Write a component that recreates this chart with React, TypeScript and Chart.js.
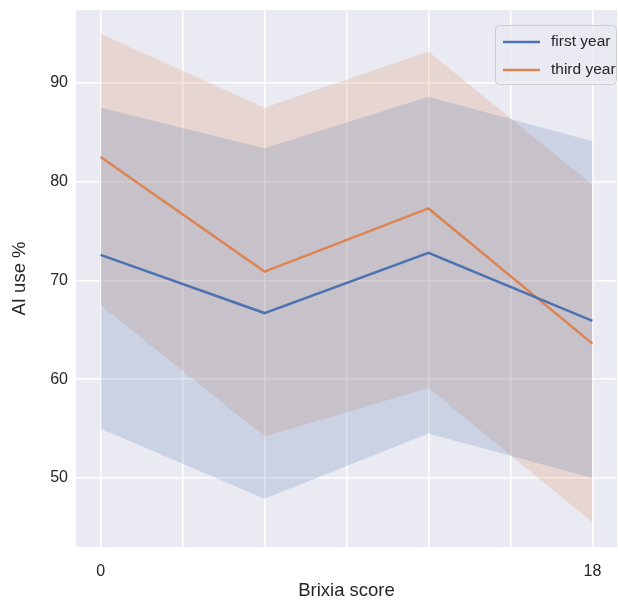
import React, { useEffect, useRef } from "react";
import { Chart, registerables } from "chart.js";

Chart.register(...registerables);

const xValues = [0, 6, 12, 18];
const firstYearMean = [72.6, 66.7, 72.8, 65.9];
const firstYearLow = [55.0, 47.9, 54.5, 50.0];
const firstYearHigh = [87.5, 83.4, 88.6, 84.1];
const thirdYearMean = [82.5, 70.9, 77.3, 63.6];
const thirdYearLow = [67.5, 54.2, 59.1, 45.5];
const thirdYearHigh = [95.0, 87.5, 93.2, 79.7];
const xTickValues = [0, 3, 6, 9, 12, 15, 18];
const xTickLabels = ["0", "", "", "", "", "", "18"];
const yTickValues = [50, 60, 70, 80, 90];
const seriesNames = ["first year", "third year"];

const BLUE = "#4C72B0";
const ORANGE = "#DD8452";
const FONT = "'Liberation Sans', Arial, sans-serif";

const pts = (ys: number[]) => xValues.map((x, i) => ({ x, y: ys[i] }));

export default function App() {
  const ref = useRef<HTMLCanvasElement | null>(null);
  useEffect(() => {
    document.body.style.margin = "0";
    const bgPlugin = {
      id: "bg",
      beforeDraw(chart: any) {
        const { ctx, chartArea: a } = chart;
        ctx.save();
        ctx.fillStyle = "#EAEAF2";
        ctx.fillRect(a.left, a.top, a.right - a.left, a.bottom - a.top);
        ctx.restore();
      },
    };
    const legendPlugin = {
      id: "customLegend",
      afterDraw(chart: any) {
        const { ctx, chartArea: a } = chart;
        const w = 122, h = 59;
        const x = a.right - w, y = a.top + 15;
        ctx.save();
        ctx.beginPath();
        (ctx as any).roundRect(x + 0.5, y + 0.5, w - 1, h, 4);
        ctx.fillStyle = "rgba(234,234,242,0.8)";
        ctx.fill();
        ctx.strokeStyle = "#CCCCCC";
        ctx.lineWidth = 1;
        ctx.stroke();
        const colors = [BLUE, ORANGE];
        ctx.font = `15.5px ${FONT}`;
        ctx.textBaseline = "middle";
        seriesNames.forEach((n, i) => {
          const yy = y + 17 + i * 28;
          ctx.strokeStyle = colors[i];
          ctx.lineWidth = 2.5;
          ctx.beginPath();
          ctx.moveTo(x + 8, yy);
          ctx.lineTo(x + 45, yy);
          ctx.stroke();
          ctx.fillStyle = "#262626";
          ctx.fillText(n, x + 56, yy);
        });
        ctx.restore();
      },
    };
    const band = (data: number[], color: string, fill: any) => ({
      data: pts(data),
      borderWidth: 0,
      pointRadius: 0,
      backgroundColor: color,
      fill,
    });
    const chart = new Chart(ref.current!, {
      type: "line",
      data: {
        datasets: [
          { label: seriesNames[0], data: pts(firstYearMean), borderColor: BLUE, borderWidth: 2.5, pointRadius: 0, fill: false },
          { label: seriesNames[1], data: pts(thirdYearMean), borderColor: ORANGE, borderWidth: 2.5, pointRadius: 0, fill: false },
          band(firstYearLow, "rgba(76,114,176,0.2)", false),
          band(firstYearHigh, "rgba(76,114,176,0.2)", "-1"),
          band(thirdYearLow, "rgba(221,132,82,0.2)", false),
          band(thirdYearHigh, "rgba(221,132,82,0.2)", "-1"),
        ] as any,
      },
      options: {
        animation: false,
        responsive: false,
        maintainAspectRatio: false,
        layout: { padding: { top: 10, right: 1, left: 0, bottom: 0 } },
        plugins: { legend: { display: false }, tooltip: { enabled: false } },
        scales: {
          x: {
            type: "linear",
            min: -0.9,
            max: 18.9,
            afterBuildTicks: (s: any) => {
              s.ticks = xTickValues.map((v) => ({ value: v }));
            },
            afterFit: (s: any) => {
              s.height = 55;
              s.paddingLeft = 0;
              s.paddingRight = 0;
            },
            ticks: {
              autoSkip: false,
              maxRotation: 0,
              padding: 15,
              color: "#262626",
              font: { family: FONT, size: 16 },
              callback: (v: any) => {
                const i = xTickValues.indexOf(Number(v));
                return i >= 0 ? xTickLabels[i] : "";
              },
            },
            grid: { color: "#FFFFFF", lineWidth: 1.5, drawTicks: false },
            border: { display: false },
            title: { display: true, text: "Brixia score", color: "#262626", font: { family: FONT, size: 18.5 }, padding: { top: 4, bottom: 0 } },
          },
          y: {
            type: "linear",
            min: 43.0,
            max: 97.4,
            afterBuildTicks: (s: any) => {
              s.ticks = yTickValues.map((v) => ({ value: v }));
            },
            afterFit: (s: any) => {
              s.width = 76;
              s.paddingTop = 0;
              s.paddingBottom = 0;
            },
            ticks: {
              padding: 8,
              color: "#262626",
              font: { family: FONT, size: 16 },
            },
            grid: { color: "#FFFFFF", lineWidth: 1.5, drawTicks: false },
            border: { display: false },
            title: { display: true, text: "AI use %", color: "#262626", font: { family: FONT, size: 18.5 }, padding: { top: 9, bottom: 0 } },
          },
        },
      },
      plugins: [bgPlugin, legendPlugin],
    } as any);
    return () => chart.destroy();
  }, []);
  return <canvas ref={ref} width={618} height={602} style={{ display: "block" }} />;
}
